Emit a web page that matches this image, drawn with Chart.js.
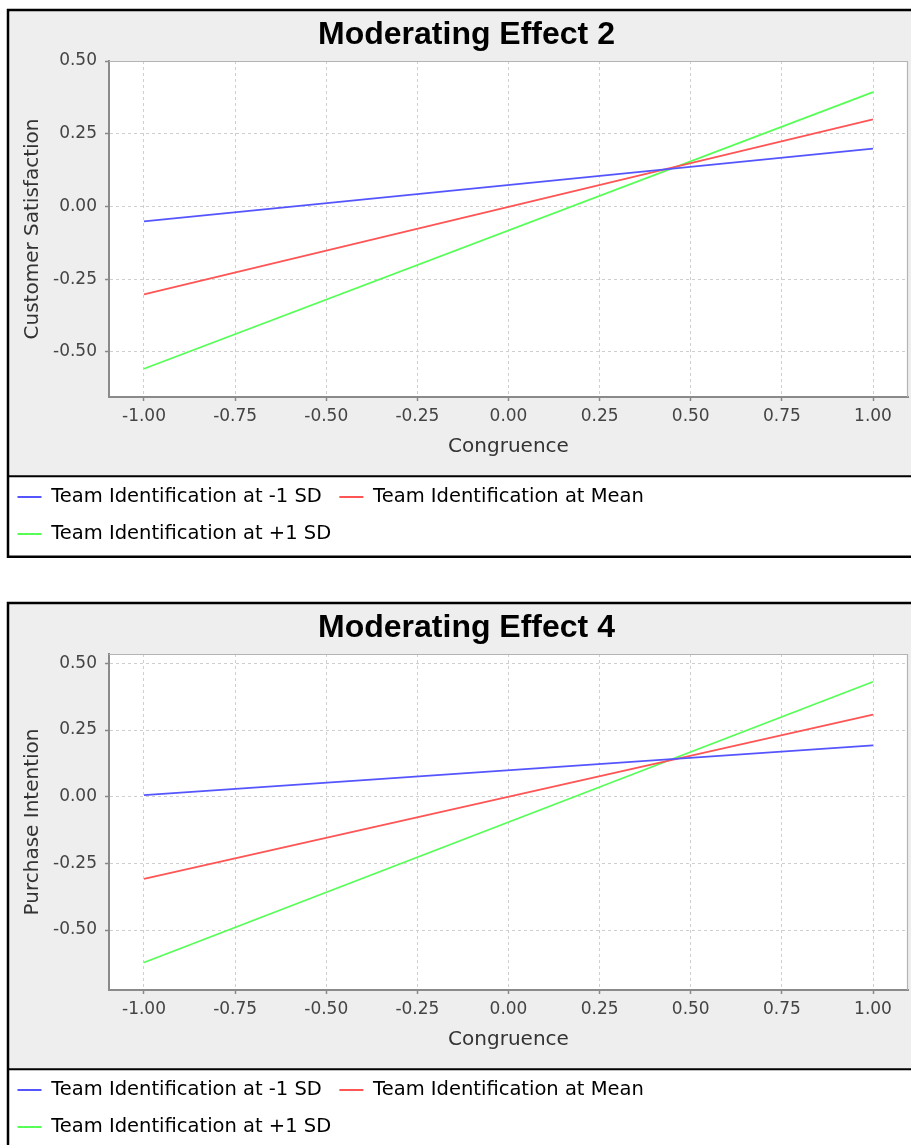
<!DOCTYPE html>
<html><head><meta charset="utf-8">
<script src="https://cdn.jsdelivr.net/npm/chart.js@4"></script>
<style>
html,body{margin:0;padding:0;background:#fff;overflow:hidden;width:911px;height:1145px;position:relative;}
canvas{position:absolute;left:0;}
#c1{top:0;} #c2{top:593px;}
</style></head><body>
<canvas id="c1" width="933" height="560"></canvas>
<canvas id="c2" width="933" height="560"></canvas>
<script>
// ---- data ----
const congruence = [-1, 1];
const seriesLabels = ['Team Identification at -1 SD', 'Team Identification at Mean', 'Team Identification at +1 SD'];
const seriesColors = ['#5555ff', '#ff5555', '#55ff55'];
const effect2Low  = [-0.051, 0.199];
const effect2Mean = [-0.302, 0.299];
const effect2High = [-0.558, 0.393];
const effect4Low  = [0.006, 0.192];
const effect4Mean = [-0.308, 0.308];
const effect4High = [-0.622, 0.431];
const xTicks = [-1, -0.75, -0.5, -0.25, 0, 0.25, 0.5, 0.75, 1];
const yTicks = [-0.5, -0.25, 0, 0.25, 0.5];

const SANS = '"DejaVu Sans", "Lucida Sans", sans-serif';

const framePlugin = {
  id: 'frame',
  beforeDraw(chart) {
    const ctx = chart.ctx, a = chart.chartArea, lg = chart.legend;
    const left = 8, top = 10, right = chart.width - 8;
    const divider = lg.top + 6.5, bottom = lg.bottom + 3;
    ctx.save();
    ctx.fillStyle = '#eeeeee';
    ctx.fillRect(left, top, right - left, divider - top);
    ctx.fillStyle = '#ffffff';
    ctx.fillRect(left, divider, right - left, bottom - divider);
    ctx.fillRect(a.left, a.top, a.right - a.left, a.bottom - a.top);
    ctx.strokeStyle = '#000';
    ctx.lineWidth = 2.5;
    ctx.strokeRect(left, top, right - left, bottom - top);
    ctx.lineWidth = 2;
    ctx.beginPath(); ctx.moveTo(left, divider); ctx.lineTo(right, divider); ctx.stroke();
    ctx.restore();
  },
  beforeDatasetsDraw(chart) {
    const ctx = chart.ctx, a = chart.chartArea;
    ctx.save();
    ctx.strokeStyle = '#b4b4b4';
    ctx.lineWidth = 1.2;
    ctx.beginPath();
    ctx.moveTo(a.left, a.top + 0.5); ctx.lineTo(a.right - 0.5, a.top + 0.5); ctx.lineTo(a.right - 0.5, a.bottom);
    ctx.stroke();
    ctx.restore();
  }
};

function makeChart(id, title, yTitle, low, mean, high, yMin, yMax) {
  const series = [low, mean, high];
  new Chart(document.getElementById(id), {
    type: 'line',
    data: {
      datasets: series.map((s, k) => ({
        label: seriesLabels[k],
        data: congruence.map((x, i) => ({x: x, y: s[i]})),
        borderColor: seriesColors[k],
        backgroundColor: seriesColors[k],
        borderWidth: 1.8,
        pointRadius: 0,
        tension: 0,
        fill: false
      }))
    },
    options: {
      responsive: false,
      animation: false,
      devicePixelRatio: 1,
      events: [],
      layout: {padding: {top: 9, left: 0, right: 0, bottom: 6.25}},
      plugins: {
        title: {
          display: true, text: title, color: '#000',
          font: {family: '"Liberation Sans", Arial, sans-serif', size: 32, weight: 'bold', lineHeight: 1.2},
          padding: {top: 6.5, bottom: 7.1}
        },
        legend: {
          position: 'bottom', align: 'start',
          labels: {
            usePointStyle: true, pointStyle: 'line', pointStyleWidth: 24,
            color: '#000', font: {family: SANS, size: 19.5}, padding: 17.5
          }
        },
        tooltip: {enabled: false}
      },
      scales: {
        x: {
          type: 'linear', min: -1.096, max: 1.096, bounds: 'data',
          afterBuildTicks: s => { s.ticks = xTicks.map(v => ({value: v})); },
          afterFit: s => { s.height = 72.75; },
          ticks: {color: '#444', font: {family: SANS, size: 17}, padding: 5, maxRotation: 0, autoSkip: false,
                  callback: v => Number(v).toFixed(2)},
          grid: {color: '#cfcfcf', lineWidth: 1, drawTicks: true, tickLength: 4, tickColor: '#888', tickWidth: 1.5, tickBorderDash: []},
          border: {display: true, color: '#8a8a8a', width: 2, dash: [3, 3]},
          title: {display: true, text: 'Congruence', color: '#333', font: {family: SANS, size: 20}, padding: {top: 8, bottom: 10.75}}
        },
        y: {
          type: 'linear', min: yMin, max: yMax, bounds: 'data',
          afterBuildTicks: s => { s.ticks = yTicks.map(v => ({value: v})); },
          afterFit: s => { s.width = 109; },
          ticks: {color: '#444', font: {family: SANS, size: 17}, padding: 8, autoSkip: false,
                  callback: v => Number(v).toFixed(2)},
          grid: {color: '#cfcfcf', lineWidth: 1, drawTicks: true, tickLength: 4, tickColor: '#888', tickWidth: 1.5, tickBorderDash: []},
          border: {display: true, color: '#8a8a8a', width: 2, dash: [3, 3]},
          title: {display: true, text: yTitle, color: '#333', font: {family: SANS, size: 20}, padding: {top: 20.5, bottom: 0}}
        },
        rightSpace: {
          type: 'linear', position: 'right', display: true,
          grid: {display: false, drawTicks: false}, ticks: {display: false},
          border: {display: false}, title: {display: false},
          afterFit: s => { s.width = 25; }
        }
      }
    },
    plugins: [framePlugin]
  });
}

makeChart('c1', 'Moderating Effect 2', 'Customer Satisfaction', effect2Low, effect2Mean, effect2High, -0.655, 0.5);
makeChart('c2', 'Moderating Effect 4', 'Purchase Intention', effect4Low, effect4Mean, effect4High, -0.725, 0.535);
</script>
</body></html>
